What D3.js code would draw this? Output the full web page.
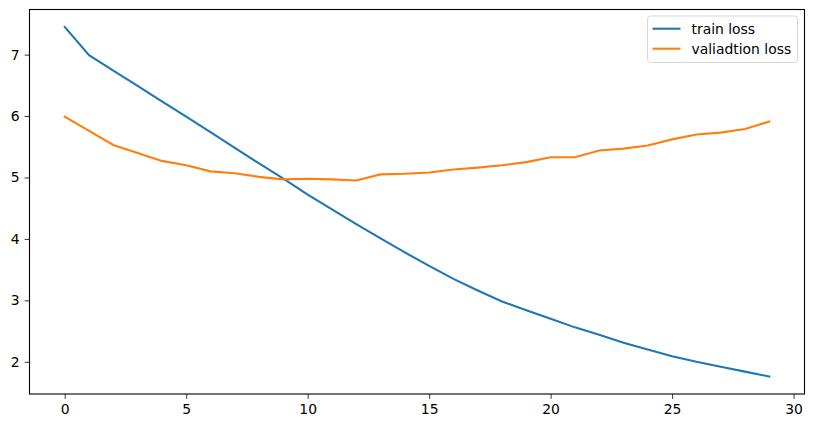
<!DOCTYPE html>
<html>
<head>
<meta charset="utf-8">
<script src="https://cdn.jsdelivr.net/npm/d3@7"></script>
<style>
  body { margin: 0; background: #fff; }
  text { font-family: "DejaVu Sans", sans-serif; }
</style>
</head>
<body>
<script>
// epochs and losses
var epochs = d3.range(0, 30);
var trainLoss = [7.45, 6.99, 6.74, 6.49, 6.24, 5.99, 5.74, 5.48, 5.23, 4.98,
                 4.72, 4.48, 4.24, 4.01, 3.78, 3.56, 3.35, 3.16, 2.98, 2.84,
                 2.70, 2.56, 2.44, 2.31, 2.20, 2.09, 2.00, 1.92, 1.84, 1.76];
var valLoss = [5.99, 5.76, 5.53, 5.40, 5.27, 5.20, 5.10, 5.07, 5.01, 4.97,
               4.98, 4.97, 4.95, 5.05, 5.06, 5.08, 5.13, 5.16, 5.20, 5.25,
               5.33, 5.33, 5.44, 5.47, 5.52, 5.62, 5.70, 5.73, 5.79, 5.91];
var seriesNames = ["train loss", "valiadtion loss"];
var seriesColors = ["#1f77b4", "#ff7f0e"];
var xTicks = [0, 5, 10, 15, 20, 25, 30];
var yTicks = [2, 3, 4, 5, 6, 7];

var width = 813, height = 428;
var margin = {top: 9.5, right: 8.5, bottom: 34, left: 29.5};

var svg = d3.select("body").append("svg")
  .attr("width", width)
  .attr("height", height);

// matplotlib style 5% padding
var ymin = d3.min(trainLoss.concat(valLoss)), ymax = d3.max(trainLoss.concat(valLoss));
var pad = (ymax - ymin) * 0.05;

var x = d3.scaleLinear()
  .domain([-1.45, 30.45])
  .range([margin.left, width - margin.right]);
var y = d3.scaleLinear()
  .domain([ymin - pad, ymax + pad])
  .range([height - margin.bottom, margin.top]);

var xAxis = svg.append("g")
  .attr("transform", "translate(0," + (height - margin.bottom) + ")")
  .call(d3.axisBottom(x).tickValues(xTicks).tickSize(4.9).tickPadding(4.9).tickFormat(d3.format("d")));
var yAxis = svg.append("g")
  .attr("transform", "translate(" + margin.left + ",0)")
  .call(d3.axisLeft(y).tickValues(yTicks).tickSize(4.9).tickPadding(4.9).tickFormat(d3.format("d")));

[xAxis, yAxis].forEach(function(g){
  g.select(".domain").remove();
  g.selectAll("line").attr("stroke", "#000").attr("stroke-width", 0.8);
  g.selectAll("text").attr("fill", "#000").style("font-size", "13.9px").style("font-family", "DejaVu Sans");
});

var line = d3.line()
  .x(function(d){ return x(d[0]); })
  .y(function(d){ return y(d[1]); });

[trainLoss, valLoss].forEach(function(vals, k){
  svg.append("path")
    .datum(epochs.map(function(e, i){ return [e, vals[i]]; }))
    .attr("fill", "none")
    .attr("stroke", seriesColors[k])
    .attr("stroke-width", 2.1)
    .attr("stroke-linecap", "square")
    .attr("d", line);
});

// axes frame
svg.append("rect")
  .attr("x", margin.left)
  .attr("y", margin.top)
  .attr("width", width - margin.left - margin.right)
  .attr("height", height - margin.top - margin.bottom)
  .attr("fill", "none")
  .attr("stroke", "#000")
  .attr("stroke-width", 1.1);

// legend
var lg = svg.append("g").attr("transform", "translate(647.5,16)");
lg.append("rect")
  .attr("width", 150).attr("height", 46.5)
  .attr("rx", 3)
  .attr("fill", "#fff").attr("fill-opacity", 0.8)
  .attr("stroke", "#d8d8d8").attr("stroke-width", 1);
seriesNames.forEach(function(name, k){
  var yy = 12.7 + k * 20;
  lg.append("line")
    .attr("x1", 5).attr("x2", 33)
    .attr("y1", yy).attr("y2", yy)
    .attr("stroke", seriesColors[k]).attr("stroke-width", 2.1);
  lg.append("text")
    .attr("x", 44).attr("y", yy + 5)
    .style("font-size", "13.9px")
    .attr("fill", "#000")
    .text(name);
});
</script>
</body>
</html>
